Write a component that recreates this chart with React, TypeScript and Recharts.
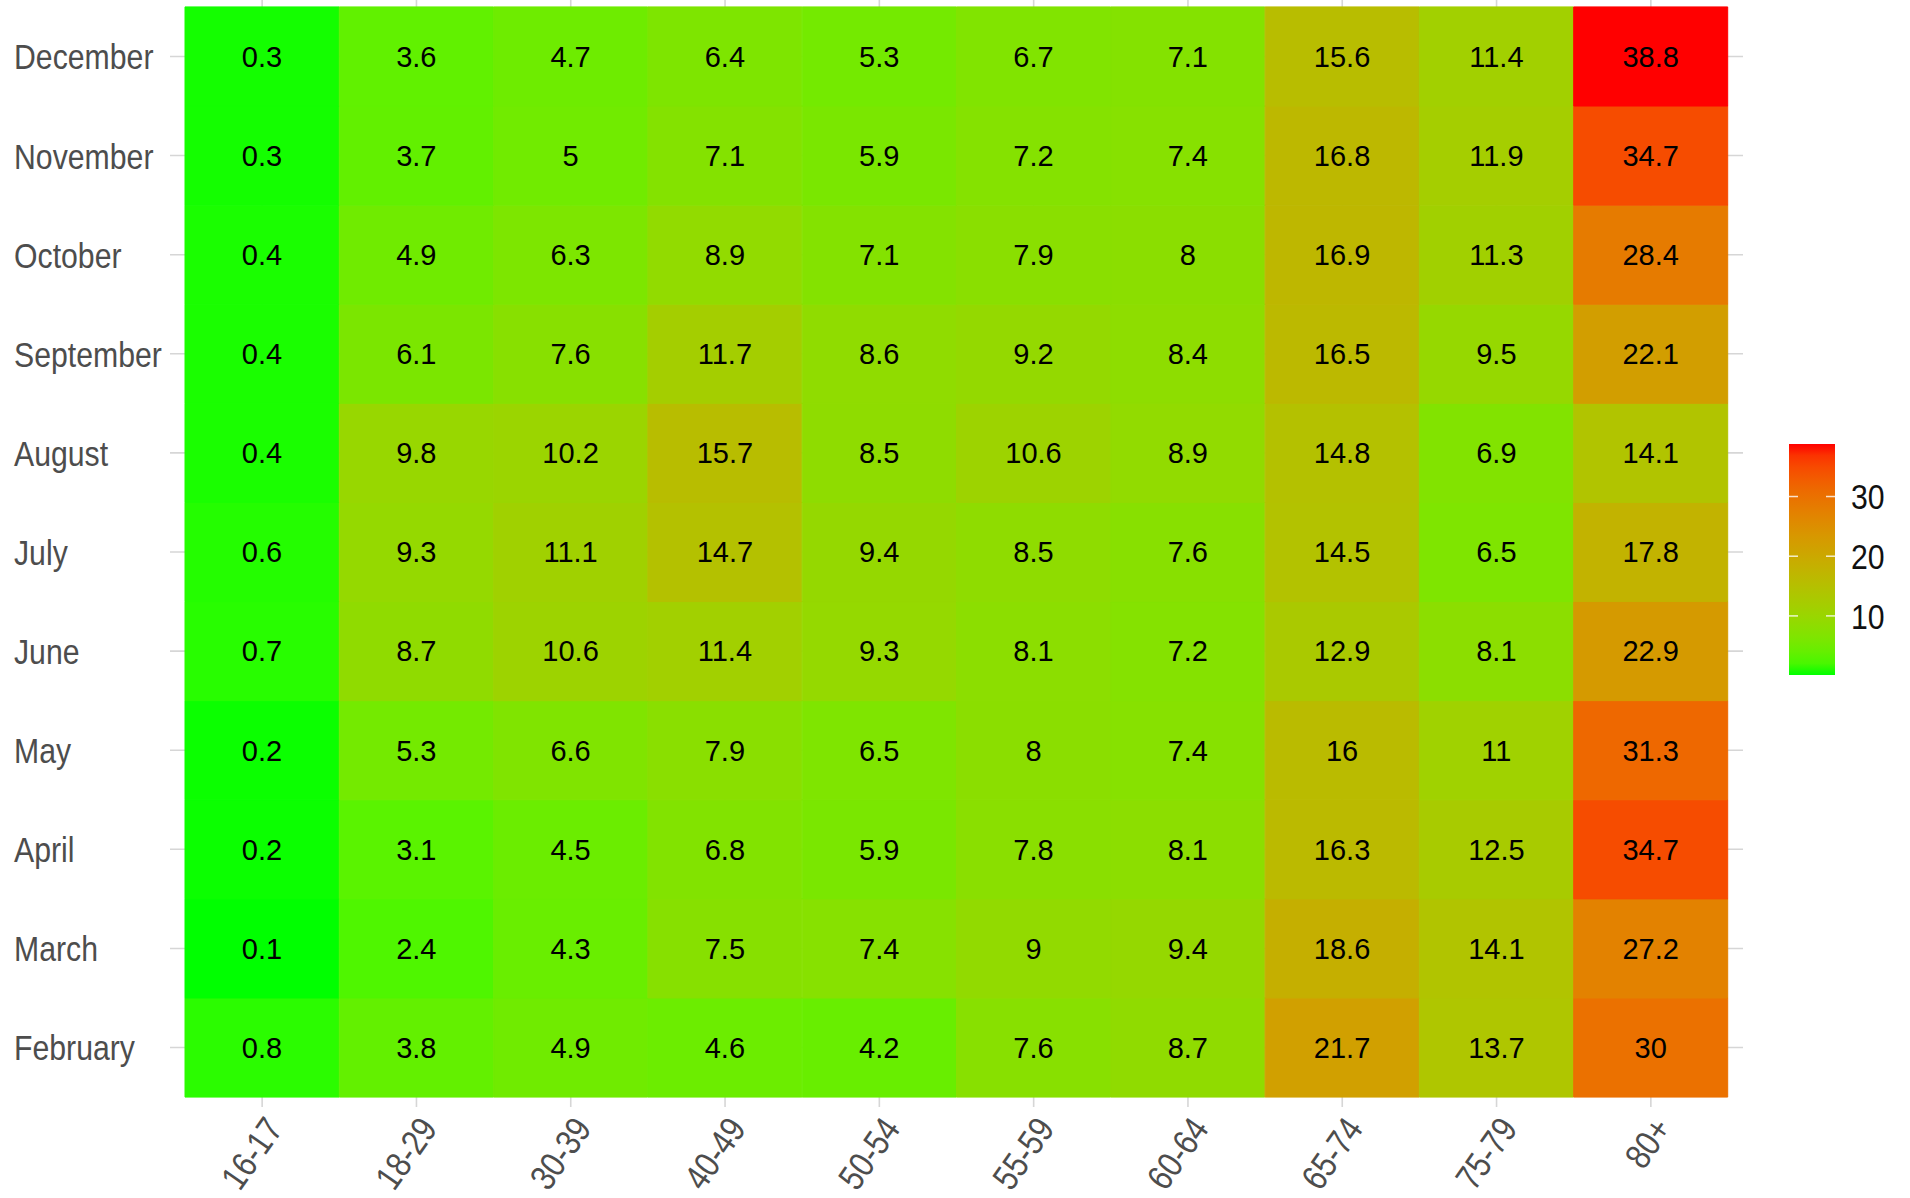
import { BarChart, Bar, XAxis, YAxis, CartesianGrid, Cell, LabelList } from "recharts"

const ages = ["16-17", "18-29", "30-39", "40-49", "50-54", "55-59", "60-64", "65-74", "75-79", "80+"]
// bottom row first
const months = ["February", "March", "April", "May", "June", "July", "August", "September", "October", "November", "December"]

const february = [0.8, 3.8, 4.9, 4.6, 4.2, 7.6, 8.7, 21.7, 13.7, 30]
const march = [0.1, 2.4, 4.3, 7.5, 7.4, 9, 9.4, 18.6, 14.1, 27.2]
const april = [0.2, 3.1, 4.5, 6.8, 5.9, 7.8, 8.1, 16.3, 12.5, 34.7]
const may = [0.2, 5.3, 6.6, 7.9, 6.5, 8, 7.4, 16, 11, 31.3]
const june = [0.7, 8.7, 10.6, 11.4, 9.3, 8.1, 7.2, 12.9, 8.1, 22.9]
const july = [0.6, 9.3, 11.1, 14.7, 9.4, 8.5, 7.6, 14.5, 6.5, 17.8]
const august = [0.4, 9.8, 10.2, 15.7, 8.5, 10.6, 8.9, 14.8, 6.9, 14.1]
const september = [0.4, 6.1, 7.6, 11.7, 8.6, 9.2, 8.4, 16.5, 9.5, 22.1]
const october = [0.4, 4.9, 6.3, 8.9, 7.1, 7.9, 8, 16.9, 11.3, 28.4]
const november = [0.3, 3.7, 5, 7.1, 5.9, 7.2, 7.4, 16.8, 11.9, 34.7]
const december = [0.3, 3.6, 4.7, 6.4, 5.3, 6.7, 7.1, 15.6, 11.4, 38.8]

const monthValues = [february, march, april, may, june, july, august, september, october, november, december]
const legendTicks = [10, 20, 30]
const rowTicks = months.map((_, i) => i + 0.5)
const yDomain = [-0.1, 11.1]
const xPad = 15

const allValues = monthValues.flat()
const minV = Math.min(...allValues)
const maxV = Math.max(...allValues)

// low = green, high = red, blended in CIELAB like ggplot's scale_fill_gradient
const toLinear = (c: number) => {
    c /= 255
    return c <= 0.04045 ? c / 12.92 : Math.pow((c + 0.055) / 1.055, 2.4)
}
const fromLinear = (c: number) => {
    const v = c <= 0.0031308 ? 12.92 * c : 1.055 * Math.pow(c, 1 / 2.4) - 0.055
    return Math.round(Math.max(0, Math.min(1, v)) * 255)
}
const Xn = 0.95047, Yn = 1, Zn = 1.08883
const f = (t: number) => (t > 216 / 24389 ? Math.cbrt(t) : (24389 / 27 * t + 16) / 116)
const finv = (t: number) => (t * t * t > 216 / 24389 ? t * t * t : (116 * t - 16) / (24389 / 27))

function rgbToLab([r, g, b]: number[]) {
    const R = toLinear(r), G = toLinear(g), B = toLinear(b)
    const x = 0.4124564 * R + 0.3575761 * G + 0.1804375 * B
    const y = 0.2126729 * R + 0.7151522 * G + 0.072175 * B
    const z = 0.0193339 * R + 0.119192 * G + 0.9503041 * B
    const fx = f(x / Xn), fy = f(y / Yn), fz = f(z / Zn)
    return [116 * fy - 16, 500 * (fx - fy), 200 * (fy - fz)]
}
function labToHex([L, a, bb]: number[]) {
    const fy = (L + 16) / 116
    const fx = fy + a / 500
    const fz = fy - bb / 200
    const x = finv(fx) * Xn, y = finv(fy) * Yn, z = finv(fz) * Zn
    const R = 3.2404542 * x - 1.5371385 * y - 0.4985314 * z
    const G = -0.969266 * x + 1.8760108 * y + 0.041556 * z
    const B = 0.0556434 * x - 0.2040259 * y + 1.0572252 * z
    return "#" + [R, G, B].map((c) => fromLinear(c).toString(16).padStart(2, "0")).join("")
}
const lowLab = rgbToLab([0, 255, 0])
const highLab = rgbToLab([255, 0, 0])
function fillFor(v: number) {
    const t = (v - minV) / (maxV - minV)
    return labToHex(lowLab.map((l, i) => l + (highLab[i] - l) * t))
}

const tableRows = ages.map((age, i) => {
    const row: Record<string, string | number> = { age }
    months.forEach((m, j) => {
        row[m] = monthValues[j][i]
        row["cell_" + m] = 1
    })
    return row
})

// ggplot used a narrow sans for the axes: Liberation Sans squeezed horizontally
const axisFont = "'Liberation Sans', Arial, sans-serif"
const narrow = "scale(0.84, 1)"
const cellFont = "'Liberation Sans', Arial, sans-serif"

function MonthTick(props: any) {
    const { y, payload } = props
    return (
        <text transform={`translate(14, ${y}) ${narrow}`} dy="0.36em" textAnchor="start" fontSize={36}
            fontFamily={axisFont} fill="#4d4d4d">
            {months[Math.floor(payload.value)]}
        </text>
    )
}

function AgeTick(props: any) {
    const { x, y, payload } = props
    return (
        <text transform={`translate(${x + 22}, ${y + 14}) rotate(-55) ${narrow}`} textAnchor="end" fontSize={36}
            fontFamily={axisFont} fill="#4d4d4d">
            {payload.value}
        </text>
    )
}

// grid only at the row / column centres, not on the panel border
function rowLines({ offset }: any) {
    if (!offset) return []
    return rowTicks.map((t) => offset.top + (offset.height * (yDomain[1] - t)) / (yDomain[1] - yDomain[0]))
}
function colLines({ offset }: any) {
    if (!offset) return []
    const band = (offset.width - 2 * xPad) / ages.length
    return ages.map((_, i) => offset.left + xPad + band * (i + 0.5))
}

function ColorBar() {
    const left = 1789, top = 444, w = 46, h = 231
    const stops = Array.from({ length: 21 }, (_, k) => k / 20)
    const yOf = (v: number) => top + h - ((v - minV) / (maxV - minV)) * h
    return (
        <svg width={1910} height={1198} style={{ position: "absolute", left: 0, top: 0, pointerEvents: "none" }}>
            <defs>
                <linearGradient id="fillbar" x1="0" y1="1" x2="0" y2="0">
                    {stops.map((s) => (
                        <stop key={s} offset={s} stopColor={fillFor(minV + s * (maxV - minV))} />
                    ))}
                </linearGradient>
            </defs>
            <rect x={left} y={top} width={w} height={h} fill="url(#fillbar)" />
            {legendTicks.map((t) => (
                <g key={t}>
                    <line x1={left} x2={left + 9} y1={yOf(t)} y2={yOf(t)} stroke="#ffffff" strokeOpacity={0.8} strokeWidth={1.5} />
                    <line x1={left + w - 9} x2={left + w} y1={yOf(t)} y2={yOf(t)} stroke="#ffffff" strokeOpacity={0.8} strokeWidth={1.5} />
                    <text transform={`translate(1851, ${yOf(t)}) ${narrow}`} dy="0.36em" fontSize={36}
                        fontFamily={axisFont} fill="#111">{t}</text>
                </g>
            ))}
        </svg>
    )
}

export default function App() {
    return (
        <div style={{ position: "absolute", left: 0, top: 0, width: 1910, height: 1198, overflow: "hidden", background: "#fff" }}>
            <div style={{ position: "absolute", left: 0, top: -3 }}>
                <BarChart width={1910} height={1201} data={tableRows} barCategoryGap={0} barGap={0}
                    margin={{ top: 0, right: 167, bottom: 0, left: 0 }}>
                    <CartesianGrid stroke="#d6d6d6" strokeWidth={1.6}
                        horizontalCoordinatesGenerator={rowLines} verticalCoordinatesGenerator={colLines} />
                    <XAxis dataKey="age" type="category" height={91} padding={{ left: xPad, right: xPad }}
                        axisLine={false} tickLine={false} tick={<AgeTick />} interval={0} />
                    <YAxis type="number" domain={yDomain} width={170} ticks={rowTicks}
                        axisLine={false} tickLine={false} tick={<MonthTick />} allowDataOverflow />
                    {months.map((m) => (
                        <Bar key={m} dataKey={"cell_" + m} stackId="heat" isAnimationActive={false}>
                            {tableRows.map((row, i) => {
                                const c = fillFor(row[m] as number)
                                return <Cell key={i} fill={c} stroke={c} strokeWidth={1} />
                            })}
                            <LabelList dataKey={m} position="center" fill="#000" fontSize={29} fontFamily={cellFont} />
                        </Bar>
                    ))}
                </BarChart>
            </div>
            <ColorBar />
        </div>
    )
}
